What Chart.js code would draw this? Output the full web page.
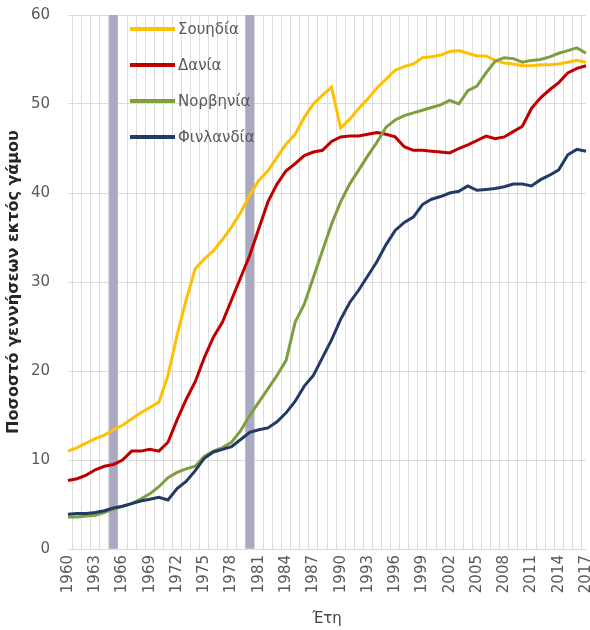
<!DOCTYPE html>
<html>
<head>
<meta charset="utf-8">
<script src="https://cdn.jsdelivr.net/npm/chart.js@4/dist/chart.umd.min.js"></script>
<style>
  body { margin: 0; background: #fff; }
  #wrap { position: relative; width: 590px; height: 630px; }
  #legend { position: absolute; left: 130px; top: 11px; font: 15px "DejaVu Sans", sans-serif; color: #595959; }
  .row { display: flex; align-items: center; height: 36px; }
  .swatch { width: 45px; height: 4px; margin-right: 3px; }
</style>
</head>
<body>
<div id="wrap">
  <canvas id="chart" width="590" height="630"></canvas>
  <div id="legend"></div>
</div>
<script>
// Έτη
const years = ['1960','1961','1962','1963','1964','1965','1966','1967','1968','1969',
  '1970','1971','1972','1973','1974','1975','1976','1977','1978','1979',
  '1980','1981','1982','1983','1984','1985','1986','1987','1988','1989',
  '1990','1991','1992','1993','1994','1995','1996','1997','1998','1999',
  '2000','2001','2002','2003','2004','2005','2006','2007','2008','2009',
  '2010','2011','2012','2013','2014','2015','2016','2017'];
const shownYears = ['1960','1963','1966','1969','1972','1975','1978','1981','1984','1987',
  '1990','1993','1996','1999','2002','2005','2008','2011','2014','2017'];
const highlightYears = ['1965', '1980'];

const sweden = [11.0,11.4,11.9,12.4,12.8,13.4,13.9,14.6,15.3,15.9,
  16.5,19.5,24.0,28.0,31.5,32.6,33.5,34.8,36.2,37.8,
  39.8,41.4,42.5,44.0,45.5,46.6,48.5,50.0,51.0,51.9,
  47.3,48.3,49.5,50.6,51.8,52.8,53.8,54.2,54.5,55.2,
  55.3,55.5,55.9,56.0,55.7,55.4,55.4,54.9,54.6,54.5,
  54.3,54.3,54.4,54.4,54.5,54.7,54.9,54.7];
const denmark = [7.7,7.9,8.3,8.9,9.3,9.5,10.0,11.0,11.0,11.2,
  11.0,12.0,14.5,16.8,18.8,21.5,23.8,25.5,28.0,30.5,
  33.0,36.0,39.0,41.0,42.5,43.3,44.2,44.6,44.8,45.8,
  46.3,46.4,46.4,46.6,46.8,46.6,46.3,45.2,44.8,44.8,
  44.7,44.6,44.5,45.0,45.4,45.9,46.4,46.1,46.3,46.9,
  47.5,49.5,50.7,51.6,52.4,53.5,54.0,54.3];
const norway = [3.6,3.6,3.7,3.8,4.1,4.5,4.8,5.1,5.6,6.2,
  7.0,8.0,8.6,9.0,9.3,10.4,11.0,11.4,12.0,13.3,
  15.0,16.5,18.0,19.5,21.2,25.5,27.5,30.5,33.5,36.5,
  39.0,41.0,42.6,44.2,45.7,47.4,48.2,48.7,49.0,49.3,
  49.6,49.9,50.4,50.0,51.5,52.0,53.5,54.8,55.2,55.1,
  54.7,54.9,55.0,55.3,55.7,56.0,56.3,55.7];
const finland = [3.9,4.0,4.0,4.1,4.3,4.6,4.8,5.1,5.4,5.6,
  5.8,5.5,6.8,7.6,8.8,10.2,10.9,11.2,11.5,12.3,
  13.1,13.4,13.6,14.3,15.3,16.6,18.3,19.5,21.5,23.5,
  25.8,27.7,29.1,30.7,32.3,34.2,35.8,36.7,37.3,38.7,
  39.3,39.6,40.0,40.2,40.8,40.3,40.4,40.5,40.7,41.0,
  41.0,40.8,41.5,42.0,42.6,44.3,44.9,44.7];

const seriesNames = ['Σουηδία', 'Δανία', 'Νορβηνία', 'Φινλανδία'];
const seriesValues = [sweden, denmark, norway, finland];
const seriesColors = ['#ffc000', '#c00000', '#7f9f3f', '#223a66'];

const lineSets = seriesNames.map((name, i) => ({
  type: 'line',
  label: name,
  data: seriesValues[i],
  borderColor: seriesColors[i],
  backgroundColor: seriesColors[i],
  borderWidth: 3,
  pointRadius: 0,
  tension: 0,
  order: 4 - i
}));

const bandSet = {
  type: 'bar',
  label: 'highlight',
  data: years.map(y => highlightYears.includes(y) ? 60 : null),
  backgroundColor: '#a9a9c3',
  barThickness: 8,
  order: 10
};

// legend inside the plot
const legend = document.getElementById('legend');
seriesNames.forEach((name, i) => {
  const row = document.createElement('div');
  row.className = 'row';
  row.innerHTML = '<div class="swatch" style="background:' + seriesColors[i] + '"></div><span>' + name + '</span>';
  legend.appendChild(row);
});

Chart.defaults.font.family = '"DejaVu Sans", sans-serif';
Chart.defaults.color = '#595959';

new Chart(document.getElementById('chart'), {
  data: { labels: years, datasets: [bandSet, ...lineSets] },
  options: {
    responsive: false,
    animation: false,
    layout: { padding: { left: 4, right: 4, top: 15, bottom: 0 } },
    plugins: { legend: { display: false }, tooltip: { enabled: false } },
    scales: {
      x: {
        offset: false,
        grid: { color: '#dcdcdc', drawTicks: false },
        border: { color: '#dcdcdc' },
        ticks: {
          autoSkip: false, maxRotation: 90, minRotation: 90, padding: 6,
          font: { size: 15 },
          callback: function (v, i) { return shownYears.includes(years[i]) ? years[i] : ''; }
        },
        title: { display: true, text: 'Έτη', font: { size: 15 }, color: '#404040', padding: { top: 0, bottom: 2 } },
        afterFit: s => { s.height = 81; s.paddingLeft = 0; s.paddingRight = 0; }
      },
      y: {
        min: 0, max: 60,
        grid: { color: '#dcdcdc', drawTicks: false },
        border: { display: false },
        ticks: { stepSize: 10, padding: 18, font: { size: 15 } },
        title: { display: true, text: 'Ποσοστό γεννήσεων εκτός γάμου', font: { size: 16, weight: 'bold' }, color: '#262626', padding: 0 },
        afterFit: s => { s.width = 64; s.paddingTop = 0; s.paddingBottom = 0; }
      }
    }
  }
});
</script>
</body>
</html>
